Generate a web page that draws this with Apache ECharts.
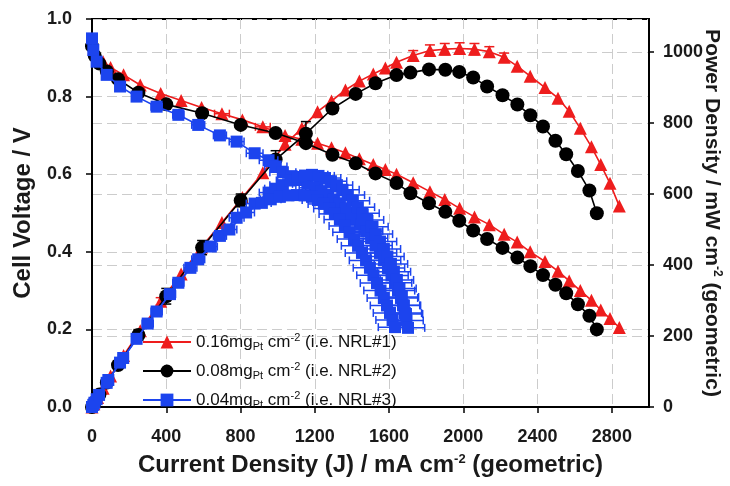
<!DOCTYPE html>
<html>
<head>
<meta charset="utf-8">
<script src="https://cdn.jsdelivr.net/npm/echarts@6/dist/echarts.min.js"></script>
<style>html,body{margin:0;padding:0;background:#fff}#c{width:730px;height:486px}</style>
</head>
<body>
<div id="c"></div>
<script>
// ---- data ----
const xTicks = [0, 400, 800, 1200, 1600, 2000, 2400, 2800];

const redJ = [0, 10, 30, 60, 100, 170, 260, 370, 480, 590, 700, 810, 920, 1040, 1130, 1215, 1290, 1365, 1440, 1515, 1580, 1640, 1730, 1820, 1900, 1980, 2060, 2140, 2220, 2290, 2360, 2440, 2510, 2570, 2630, 2690, 2740, 2790, 2840];
const redV = [0.945, 0.925, 0.905, 0.89, 0.875, 0.856, 0.83, 0.808, 0.79, 0.772, 0.756, 0.74, 0.722, 0.70, 0.69, 0.68, 0.668, 0.655, 0.64, 0.625, 0.612, 0.60, 0.578, 0.555, 0.535, 0.512, 0.49, 0.47, 0.445, 0.425, 0.40, 0.375, 0.35, 0.325, 0.30, 0.275, 0.25, 0.228, 0.205];
const redP = [0, 9, 27, 53, 87, 145, 215, 298, 375, 451, 520, 590, 660, 740, 785, 832, 862, 893, 918, 938, 955, 971, 990, 1004, 1008, 1010, 1008, 1001, 985, 960, 932, 900, 870, 833, 785, 733, 683, 630, 566];
const redPErr = [0, 0, 0, 0, 0, 0, 0, 10, 0, 0, 0, 0, 0, 0, 0, 0, 0, 0, 0, 0, 0, 0, 14, 16, 16, 16, 16, 14, 12, 0, 0, 0, 0, 0, 0, 0, 0, 0, 0];
const redVErrJ = [0, 0, 0, 0, 0, 0, 0, 0, 0, 0, 40, 0, 40, 0, 0, 0, 0, 0, 0, 0, 0, 0, 0, 0, 0, 0, 0, 0, 0, 0, 0, 0, 0, 0, 0, 0, 0, 0, 0];

const blackJ = [0, 15, 40, 80, 140, 250, 400, 593, 801, 989, 1152, 1295, 1420, 1527, 1640, 1715, 1815, 1903, 1978, 2053, 2128, 2211, 2291, 2361, 2429, 2496, 2554, 2617, 2679, 2719];
const blackV = [0.93, 0.905, 0.885, 0.865, 0.845, 0.81, 0.78, 0.757, 0.727, 0.706, 0.68, 0.65, 0.628, 0.602, 0.577, 0.551, 0.525, 0.503, 0.48, 0.455, 0.433, 0.41, 0.385, 0.363, 0.34, 0.315, 0.293, 0.265, 0.235, 0.20];
const blackP = [0, 14, 35, 69, 118, 203, 312, 449, 582, 697, 770, 841, 882, 912, 935, 942, 951, 950, 944, 928, 903, 878, 852, 822, 790, 750, 712, 665, 610, 546];
const blackPErr = [0, 0, 0, 10, 12, 15, 22, 20, 18, 25, 34, 12, 0, 0, 0, 0, 0, 0, 0, 0, 0, 0, 0, 0, 0, 0, 0, 0, 0, 0];

const blueVJ = [0, 7, 25, 79, 151, 240, 348, 465, 572, 689, 779, 876, 951, 990, 1028, 1075, 1120, 1160, 1201, 1236, 1271, 1303, 1335, 1365, 1395, 1422, 1449, 1476, 1503, 1527, 1551, 1573, 1594, 1613, 1632, 1648, 1664, 1675, 1685, 1694, 1702];
const blueV = [0.95, 0.92, 0.89, 0.856, 0.826, 0.80, 0.774, 0.753, 0.727, 0.70, 0.684, 0.654, 0.636, 0.62, 0.605, 0.595, 0.585, 0.575, 0.565, 0.555, 0.545, 0.535, 0.525, 0.512, 0.50, 0.485, 0.47, 0.453, 0.435, 0.416, 0.397, 0.378, 0.358, 0.339, 0.32, 0.30, 0.281, 0.262, 0.242, 0.223, 0.204];
const blueVErr = [5, 5, 10, 15, 20, 25, 30, 30, 35, 35, 40, 45, 50, 60, 70, 75, 80, 80, 85, 85, 85, 85, 85, 90, 90, 90, 90, 90, 90, 90, 90, 90, 90, 90, 90, 90, 90, 90, 90, 90, 90];

const blueP1J = [0, 7, 25, 79, 151, 240, 348, 465, 572, 689, 779, 876, 951, 990, 1028, 1068, 1109, 1147, 1185, 1220, 1255, 1287, 1319, 1349, 1378, 1405, 1432, 1457, 1481, 1505, 1529, 1551, 1572, 1591, 1610, 1626, 1642, 1656, 1669, 1680, 1691];
const blueP1 = [0, 6, 22, 68, 125, 192, 269, 350, 416, 482, 533, 573, 604, 615, 625, 638, 648, 652, 654, 651, 645, 636, 625, 612, 597, 581, 563, 546, 527, 508, 487, 466, 445, 424, 403, 381, 358, 334, 310, 286, 262];
const blueP1Err = [5, 5, 10, 15, 20, 25, 30, 30, 35, 35, 40, 45, 50, 60, 70, 75, 80, 80, 85, 85, 85, 85, 85, 90, 90, 90, 90, 90, 90, 90, 90, 90, 90, 90, 90, 90, 90, 90, 90, 90, 90];

const blueP2J = [0, 13, 38, 88, 168, 300, 420, 530, 640, 740, 830, 915, 963, 1012, 1058, 1104, 1145, 1185, 1217, 1249, 1279, 1308, 1335, 1362, 1387, 1411, 1433, 1454, 1476, 1497, 1516, 1535, 1554, 1572, 1589, 1605, 1619, 1632];
const blueP2 = [0, 12, 34, 76, 138, 235, 318, 392, 452, 500, 548, 575, 585, 592, 596, 597, 596, 592, 583, 572, 559, 544, 528, 510, 492, 473, 454, 434, 413, 392, 371, 349, 328, 307, 286, 265, 245, 225];
const blueP2Err = [5, 8, 12, 18, 25, 30, 30, 35, 35, 40, 45, 50, 55, 60, 70, 75, 80, 80, 85, 85, 85, 85, 85, 85, 90, 90, 90, 90, 90, 90, 90, 90, 90, 90, 90, 90, 90, 90];

const legendNames = ['NRL#1', 'NRL#2', 'NRL#3'];
const legendLoad = {'NRL#1': '0.16', 'NRL#2': '0.08', 'NRL#3': '0.04'};

// ---- styles ----
const RED = '#ee1d1d', BLACK = '#000000', BLUE = '#1c44ee';
const FONT = 'Liberation Sans, Arial, sans-serif';

function zip(a, b) { return a.map((v, i) => [v, b[i]]); }

function errBars(yIdx, xs, ys, es, dir, color, z) {
  const data = [];
  xs.forEach((x, i) => { if (es[i] > 0) data.push([x, ys[i], es[i]]); });
  return {
    type: 'custom', yAxisIndex: yIdx, data: data, z: z, silent: true,
    encode: { x: 0, y: 1 },
    renderItem: function (params, api) {
      const x = api.value(0), y = api.value(1), e = api.value(2);
      const st = { stroke: color, lineWidth: 1.5 };
      let a, b, c1, c2;
      if (dir === 'v') {
        a = api.coord([x, y - e]); b = api.coord([x, y + e]);
        c1 = { x1: a[0] - 5, y1: a[1], x2: a[0] + 5, y2: a[1] };
        c2 = { x1: b[0] - 5, y1: b[1], x2: b[0] + 5, y2: b[1] };
      } else {
        a = api.coord([x - e, y]); b = api.coord([x + e, y]);
        c1 = { x1: a[0], y1: a[1] - 4, x2: a[0], y2: a[1] + 4 };
        c2 = { x1: b[0], y1: b[1] - 4, x2: b[0], y2: b[1] + 4 };
      }
      return { type: 'group', children: [
        { type: 'line', shape: { x1: a[0], y1: a[1], x2: b[0], y2: b[1] }, style: st },
        { type: 'line', shape: c1, style: st },
        { type: 'line', shape: c2, style: st }
      ]};
    }
  };
}

function lineSeries(name, yIdx, xs, ys, color, symbol, size, z) {
  return {
    name: name, type: 'line', yAxisIndex: yIdx, data: zip(xs, ys), z: z,
    symbol: symbol, symbolSize: size, showSymbol: true,
    itemStyle: { color: color, borderWidth: 0 },
    lineStyle: { color: color, width: 1.6 },
    emphasis: { disabled: true }
  };
}

const axisLabelStyle = { fontFamily: FONT, fontWeight: 'bold', fontSize: 18, color: '#1a1a1a' };
const splitStyle = { show: true, lineStyle: { color: '#cccccc', width: 1, type: [10, 5] } };
function titleRich(size) {
  return {
    b: { fontFamily: FONT, fontWeight: 'bold', fontSize: size, color: '#1a1a1a' },
    s: { fontFamily: FONT, fontWeight: 'bold', fontSize: Math.round(size * 0.55), color: '#1a1a1a', padding: [0, 0, 11, 0] }
  };
}

const chart = echarts.init(document.getElementById('c'), null, { renderer: 'canvas' });
chart.setOption({
  animation: false,
  backgroundColor: '#ffffff',
  grid: { left: 92, right: 81, top: 19, bottom: 79, outerBoundsMode: 'none', containLabel: false,
          show: true, borderColor: '#000', borderWidth: 2, backgroundColor: 'transparent' },
  legend: {
    data: legendNames,
    orient: 'vertical',
    left: 142, top: 332, padding: 0,
    itemWidth: 48, itemHeight: 16, itemGap: 9,
    selectedMode: false,
    formatter: function (n) {
      return '{a|' + legendLoad[n] + 'mg}{sub|Pt}{a| cm}{sup|-2}{a| (i.e. ' + n + ')}';
    },
    textStyle: {
      fontFamily: FONT, fontSize: 17, color: '#111',
      rich: {
        a: { fontFamily: FONT, fontSize: 17, color: '#111' },
        sub: { fontFamily: FONT, fontSize: 11, color: '#111', padding: [9, 0, 0, 0] },
        sup: { fontFamily: FONT, fontSize: 11, color: '#111', padding: [0, 0, 9, 0] }
      }
    }
  },
  xAxis: {
    type: 'value', min: 0, max: 3000, interval: 400,
    axisLine: { lineStyle: { color: '#000', width: 2 } },
    axisTick: { show: true, inside: false, length: 6, lineStyle: { color: '#000', width: 1.5 } },
    axisLabel: Object.assign({ margin: 21, showMaxLabel: false,
      formatter: v => (xTicks.indexOf(v) >= 0 ? String(v) : '') }, axisLabelStyle),
    splitLine: splitStyle,
    name: '{b|Current Density (J) / mA cm}{s|-2}{b| (geometric)}',
    nameLocation: 'middle', nameGap: 46, nameMoveOverlap: false,
    nameTextStyle: { rich: titleRich(24) }
  },
  yAxis: [
    {
      type: 'value', min: 0, max: 1, interval: 0.2, position: 'left',
      axisLine: { show: true, lineStyle: { color: '#000', width: 2 } },
      axisTick: { show: true, length: 6, lineStyle: { color: '#000', width: 1.5 } },
      axisLabel: Object.assign({ margin: 20, formatter: v => v.toFixed(1) }, axisLabelStyle),
      splitLine: splitStyle,
      name: '{b|Cell Voltage / V}',
      nameLocation: 'middle', nameGap: 57, nameRotate: 90, nameMoveOverlap: false,
      nameTextStyle: { rich: titleRich(24) }
    },
    {
      type: 'value', min: 0, max: 1093, interval: 200, position: 'right',
      axisLine: { show: true, lineStyle: { color: '#000', width: 2 } },
      axisTick: { show: true, length: 5, lineStyle: { color: '#000', width: 1.5 } },
      axisLabel: Object.assign({ margin: 14, showMaxLabel: false, formatter: v => String(v) }, axisLabelStyle),
      splitLine: splitStyle,
      name: '{b|Power Density / mW cm}{s|-2}{b| (geometric)}',
      nameLocation: 'middle', nameGap: 51, nameRotate: -90, nameMoveOverlap: false,
      nameTextStyle: { rich: titleRich(21) }
    }
  ],
  series: [
    errBars(1, redJ, redP, redPErr, 'v', RED, 3),
    errBars(0, redJ, redV, redVErrJ, 'h', RED, 3),
    lineSeries('NRL#1', 0, redJ, redV, RED, 'triangle', 13, 3),
    lineSeries('NRL#1', 1, redJ, redP, RED, 'triangle', 13, 3),
    errBars(1, blackJ, blackP, blackPErr, 'v', BLACK, 4),
    lineSeries('NRL#2', 0, blackJ, blackV, BLACK, 'circle', 14, 4),
    lineSeries('NRL#2', 1, blackJ, blackP, BLACK, 'circle', 14, 4),
    errBars(0, blueVJ, blueV, blueVErr, 'h', BLUE, 5),
    errBars(1, blueP1J, blueP1, blueP1Err, 'h', BLUE, 5),
    errBars(1, blueP2J, blueP2, blueP2Err, 'h', BLUE, 5),
    lineSeries('NRL#3', 0, blueVJ, blueV, BLUE, 'rect', 12, 5),
    lineSeries('NRL#3', 1, blueP1J, blueP1, BLUE, 'rect', 12, 5),
    lineSeries('NRL#3', 1, blueP2J, blueP2, BLUE, 'rect', 12, 5)
  ]
});
</script>
</body>
</html>
